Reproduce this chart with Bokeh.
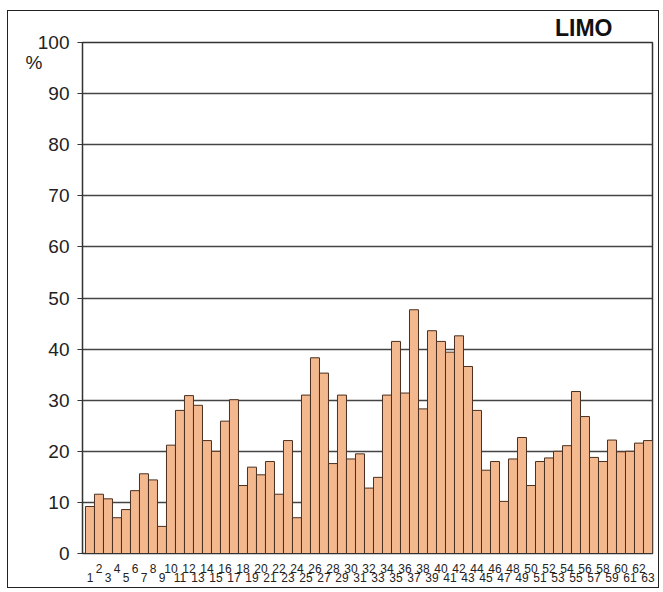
from bokeh.plotting import figure
from bokeh.models import Range1d, LinearAxis, FixedTicker, ColumnDataSource
from bokeh.embed import file_html
from bokeh.resources import INLINE

title_text = "LIMO"
unit_text = "%"
ids = list(range(1, 64))
values = [9.2, 11.6, 10.7, 7.0, 8.6, 12.3, 15.6, 14.4, 5.3, 21.2,
          28.0, 30.9, 29.0, 22.1, 20.0, 25.9, 30.1, 13.3, 16.9, 15.4,
          18.0, 11.6, 22.1, 7.0, 31.0, 38.3, 35.3, 17.6, 31.0, 18.5,
          19.5, 12.8, 14.9, 31.0, 41.5, 31.4, 47.7, 28.3, 43.6, 41.5,
          39.4, 42.6, 36.6, 28.0, 16.3, 18.0, 10.2, 18.5, 22.7, 13.3,
          18.0, 18.7, 20.0, 21.1, 31.7, 26.8, 18.8, 18.0, 22.2, 19.9,
          20.0, 21.6, 22.1]
y_ticks = list(range(0, 101, 10))
even_ticks = [i for i in ids if i % 2 == 0]
odd_ticks = [i for i in ids if i % 2 == 1]
unit_pos = 96

FONT = "Liberation Sans"
TXT = "#222222"

src = ColumnDataSource(dict(x=ids, top=values))

p = figure(width=652, height=578, output_backend="svg", toolbar_location=None,
           x_range=Range1d(0.17, 63.5), y_range=Range1d(0, 100),
           min_border_left=74, min_border_right=8, min_border_top=31,
           min_border_bottom=36, x_axis_location=None,
           styles={"border": "1px solid #222", "margin": "10px 0 0 7px"})
p.background_fill_color = "white"
p.border_fill_color = "white"
p.outline_line_color = "#333333"
p.outline_line_width = 1.5

p.title.text = title_text
p.title.align = "right"
p.title.offset = 40
p.title.standoff = 3
p.title.text_font = FONT
p.title.text_font_style = "bold"
p.title.text_font_size = "23px"
p.title.text_color = "#111111"

p.vbar(x="x", top="top", width=1.0, bottom=0, source=src,
       fill_color="#F4B88F", line_color="#4a3020", line_width=1)

# y axis
p.yaxis.ticker = FixedTicker(ticks=y_ticks)
p.yaxis.minor_tick_line_color = None
p.yaxis.major_tick_in = 0
p.yaxis.major_tick_out = 5
p.yaxis.major_tick_line_color = "#333333"
p.yaxis.axis_line_color = "#333333"
p.yaxis.major_label_text_font = FONT
p.yaxis.major_label_text_font_size = "19px"
p.yaxis.major_label_text_color = TXT
p.yaxis.major_label_standoff = 8

# "%" unit label as an extra left axis
ax_unit = LinearAxis(ticker=FixedTicker(ticks=[unit_pos]),
                     major_label_overrides={unit_pos: unit_text})
ax_unit.axis_line_color = None
ax_unit.major_tick_line_color = None
ax_unit.minor_tick_line_color = None
ax_unit.major_tick_out = 0
ax_unit.major_tick_in = 0
ax_unit.major_label_standoff = -8
ax_unit.major_label_text_font = FONT
ax_unit.major_label_text_font_size = "19px"
ax_unit.major_label_text_color = TXT
p.add_layout(ax_unit, "left")

p.ygrid.ticker = FixedTicker(ticks=y_ticks)
p.ygrid.grid_line_color = "#444444"
p.ygrid.grid_line_width = 1.5
p.xgrid.visible = False

# x axes: even labels on top row, odd labels on bottom row
ax_even = LinearAxis(ticker=FixedTicker(ticks=even_ticks))
ax_odd = LinearAxis(ticker=FixedTicker(ticks=odd_ticks))
for ax, standoff in ((ax_even, 10), (ax_odd, -3)):
    ax.major_tick_line_color = None
    ax.minor_tick_line_color = None
    ax.major_tick_out = 0
    ax.major_tick_in = 0
    ax.major_label_text_font = FONT
    ax.major_label_text_font_size = "12px"
    ax.major_label_text_color = TXT
    ax.major_label_standoff = standoff
ax_even.axis_line_color = "#333333"
ax_odd.axis_line_color = None
p.add_layout(ax_even, "below")
p.add_layout(ax_odd, "below")

open("out.html", "w").write(file_html(p, INLINE))
